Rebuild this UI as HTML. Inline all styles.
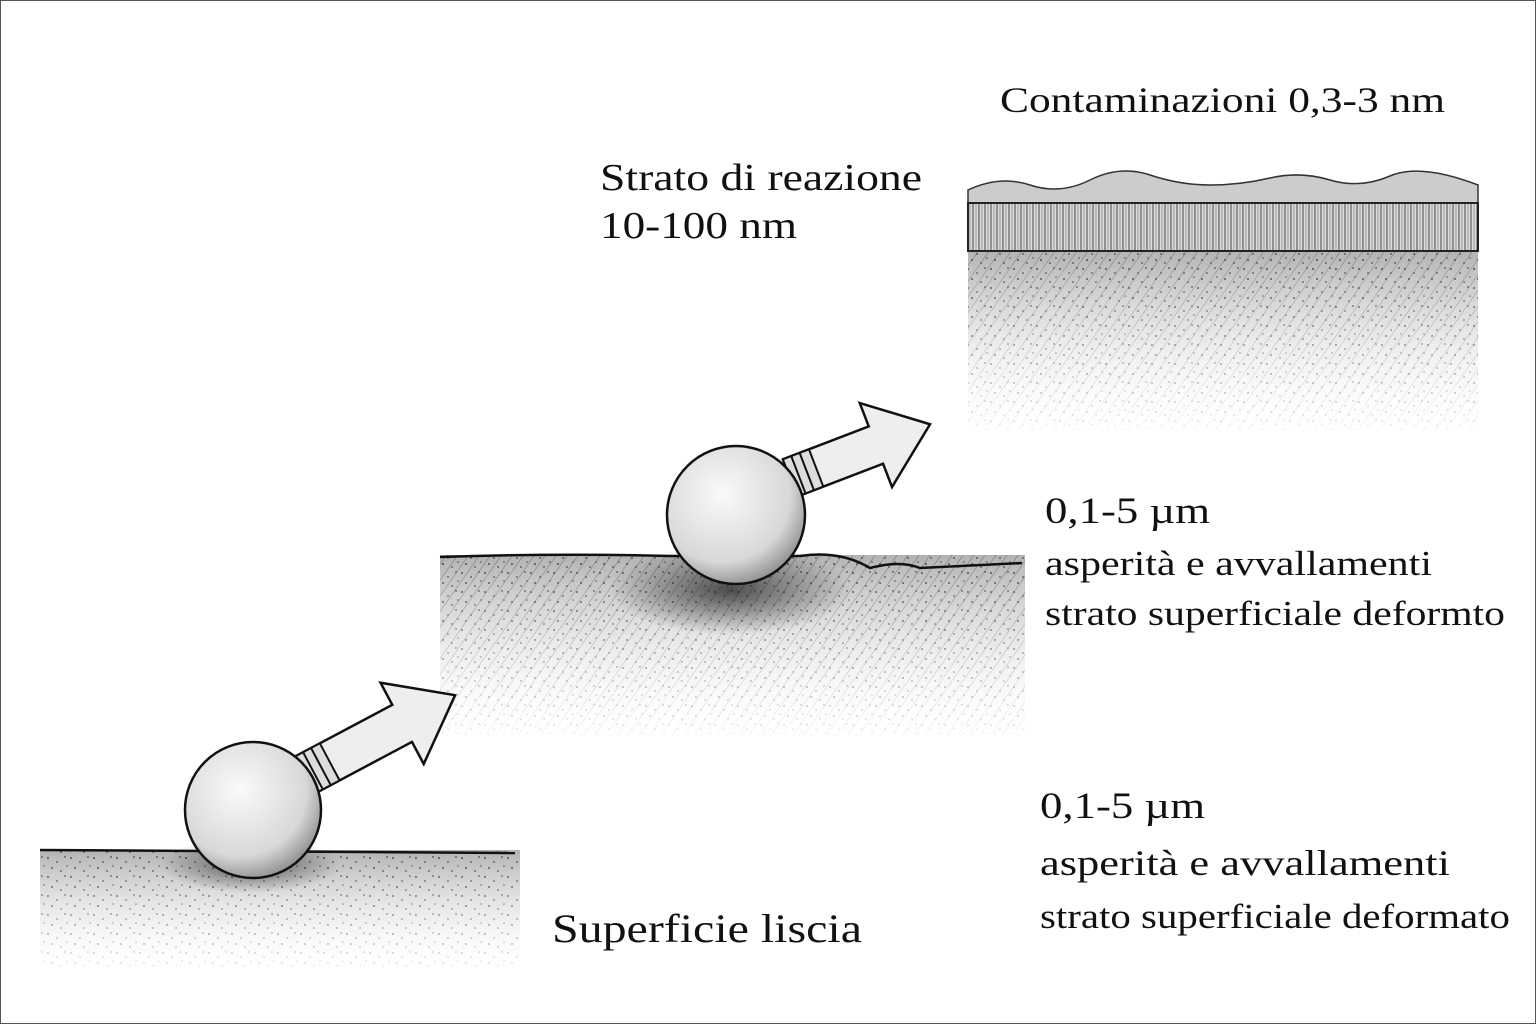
<!DOCTYPE html>
<html><head><meta charset="utf-8"><style>
html,body{margin:0;padding:0;background:#fff}
svg{display:block}
text{font-family:"Liberation Serif",serif;fill:#111}
</style></head><body>
<svg width="1536" height="1024" viewBox="0 0 1536 1024" xmlns="http://www.w3.org/2000/svg">
<defs>
<pattern id="dots" width="23" height="19" patternUnits="userSpaceOnUse">
<circle cx="2" cy="3" r="1" fill="#222"/><circle cx="11" cy="7" r="0.9" fill="#222"/><circle cx="19" cy="2" r="0.9" fill="#222"/>
<circle cx="6" cy="13" r="1" fill="#222"/><circle cx="15" cy="16" r="0.9" fill="#222"/><circle cx="21" cy="11" r="0.8" fill="#222"/>
</pattern>
<pattern id="hatch" width="9" height="9" patternUnits="userSpaceOnUse" patternTransform="rotate(35)">
<line x1="0" y1="0" x2="0" y2="9" stroke="#333" stroke-width="0.9"/>
</pattern>
<pattern id="vbar" width="6" height="50" patternUnits="userSpaceOnUse">
<rect width="6" height="50" fill="#ddd"/><line x1="1" y1="0" x2="1" y2="50" stroke="#444" stroke-width="1"/><line x1="4" y1="0" x2="4" y2="50" stroke="#777" stroke-width="0.7"/>
</pattern>
<linearGradient id="fadeD" x1="0" y1="0" x2="0" y2="1"><stop offset="0" stop-color="#fff" stop-opacity="1"/><stop offset="1" stop-color="#fff" stop-opacity="0.1"/></linearGradient>
<linearGradient id="grayD" x1="0" y1="0" x2="0" y2="1"><stop offset="0" stop-color="#666" stop-opacity="0.5"/><stop offset="1" stop-color="#666" stop-opacity="0"/></linearGradient>
<mask id="mTop"><rect x="968" y="250" width="510" height="180" fill="url(#fadeD)"/></mask>
<mask id="mMid"><rect x="440" y="555" width="585" height="180" fill="url(#fadeD)"/></mask>
<mask id="mBot"><rect x="40" y="850" width="480" height="120" fill="url(#fadeD)"/></mask>
<radialGradient id="ball" cx="0.4" cy="0.35" r="0.7"><stop offset="0" stop-color="#fafafa"/><stop offset="0.7" stop-color="#d8d8d8"/><stop offset="1" stop-color="#888"/></radialGradient>
<radialGradient id="shadow" cx="0.5" cy="0.5" r="0.5"><stop offset="0" stop-color="#111" stop-opacity="0.85"/><stop offset="1" stop-color="#111" stop-opacity="0"/></radialGradient>
</defs>
<rect x="0.5" y="0.5" width="1535" height="1023" fill="#fff" stroke="#555"/>

<!-- top block -->
<g mask="url(#mTop)"><rect x="968" y="250" width="510" height="180" fill="url(#dots)"/><rect x="968" y="250" width="510" height="180" fill="url(#hatch)" opacity="0.7"/><rect x="968" y="250" width="510" height="180" fill="url(#grayD)"/></g>
<path d="M968 190 Q1000 175 1030 185 T1090 180 T1150 175 T1210 185 T1270 178 T1330 180 T1390 176 T1478 185 L1478 205 L968 205Z" fill="#ccc" stroke="#333" stroke-width="1.5"/>
<rect x="968" y="203" width="510" height="48" fill="url(#vbar)" stroke="#222" stroke-width="2"/>

<!-- middle -->
<g mask="url(#mMid)"><rect x="440" y="555" width="585" height="180" fill="url(#dots)"/><rect x="440" y="555" width="585" height="180" fill="url(#hatch)" opacity="0.8"/><rect x="440" y="555" width="585" height="180" fill="url(#grayD)"/></g>
<ellipse cx="730" cy="590" rx="120" ry="45" fill="url(#shadow)" opacity="0.8"/>
<path d="M440 557 Q560 553 670 556 L800 556 Q840 550 870 568 Q900 560 920 568 L1022 563" fill="none" stroke="#111" stroke-width="2.5"/>
<g transform="translate(790,478) rotate(-21)">
<polygon points="0,-20 92,-20 92,-45 150,0 92,45 92,20 0,20" fill="#eee" stroke="#111" stroke-width="2.5"/>
<rect x="0" y="-20" width="28" height="40" fill="#ddd" stroke="#111" stroke-width="2"/>
<line x1="9" y1="-20" x2="9" y2="20" stroke="#111" stroke-width="2"/><line x1="18" y1="-20" x2="18" y2="20" stroke="#111" stroke-width="2"/>
</g>
<circle cx="736" cy="515" r="69" fill="url(#ball)" stroke="#111" stroke-width="2.5"/>

<!-- bottom -->
<g mask="url(#mBot)"><rect x="40" y="850" width="480" height="120" fill="url(#dots)"/><rect x="40" y="850" width="480" height="120" fill="url(#grayD)"/></g>
<ellipse cx="250" cy="865" rx="90" ry="28" fill="url(#shadow)" opacity="0.7"/>
<line x1="40" y1="850" x2="515" y2="853" stroke="#111" stroke-width="2.5"/>
<g transform="translate(305,775) rotate(-28)">
<polygon points="0,-21 110,-21 110,-46 170,0 110,46 110,21 0,21" fill="#eee" stroke="#111" stroke-width="2.5"/>
<rect x="0" y="-21" width="28" height="42" fill="#ddd" stroke="#111" stroke-width="2"/>
<line x1="9" y1="-21" x2="9" y2="21" stroke="#111" stroke-width="2"/><line x1="18" y1="-21" x2="18" y2="21" stroke="#111" stroke-width="2"/>
</g>
<circle cx="253" cy="810" r="68" fill="url(#ball)" stroke="#111" stroke-width="2.5"/>

<!-- text -->
<text x="1000" y="112" font-size="36" textLength="445" lengthAdjust="spacingAndGlyphs">Contaminazioni 0,3-3 nm</text>
<text x="600" y="190" font-size="38" textLength="322" lengthAdjust="spacingAndGlyphs">Strato di reazione</text>
<text x="600" y="238" font-size="38" textLength="197" lengthAdjust="spacingAndGlyphs">10-100 nm</text>
<text x="1045" y="523" font-size="37" textLength="165" lengthAdjust="spacingAndGlyphs">0,1-5 µm</text>
<text x="1045" y="575" font-size="35" textLength="387" lengthAdjust="spacingAndGlyphs">asperità e avvallamenti</text>
<text x="1045" y="625" font-size="35" textLength="460" lengthAdjust="spacingAndGlyphs">strato superficiale deformto</text>
<text x="1040" y="818" font-size="37" textLength="165" lengthAdjust="spacingAndGlyphs">0,1-5 µm</text>
<text x="1040" y="875" font-size="36" textLength="410" lengthAdjust="spacingAndGlyphs">asperità e avvallamenti</text>
<text x="1040" y="928" font-size="35" textLength="470" lengthAdjust="spacingAndGlyphs">strato superficiale deformato</text>
<text x="552" y="942" font-size="40" textLength="310" lengthAdjust="spacingAndGlyphs">Superficie liscia</text>
</svg>
</body></html>
